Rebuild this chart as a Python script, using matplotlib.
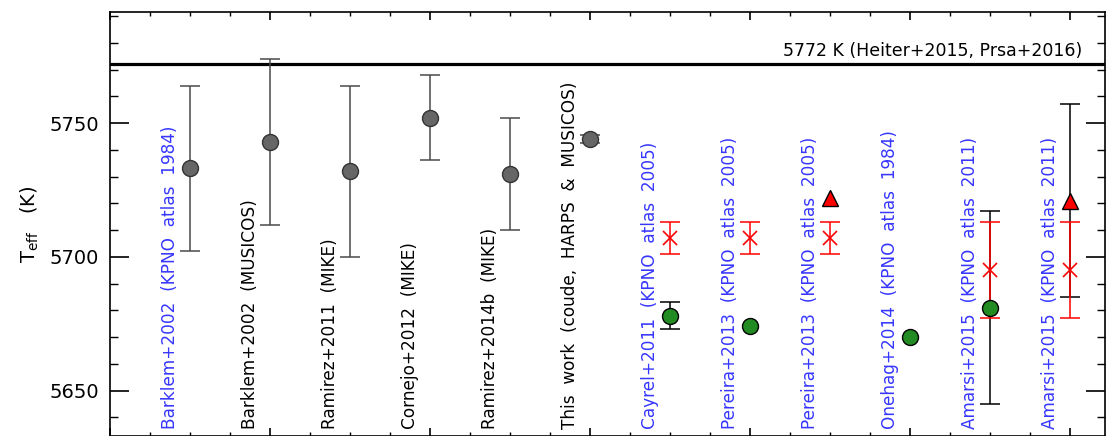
import matplotlib
matplotlib.use("Agg")
import matplotlib.pyplot as plt
import numpy as np
from matplotlib.ticker import MultipleLocator

# column labels, left to right
labels = [
    "Barklem+2002  (KPNO  atlas  1984)",
    "Barklem+2002  (MUSICOS)",
    "Ramirez+2011  (MIKE)",
    "Cornejo+2012  (MIKE)",
    "Ramirez+2014b  (MIKE)",
    "This  work  (coude,  HARPS  &  MUSICOS)",
    "Cayrel+2011  (KPNO  atlas  2005)",
    "Pereira+2013  (KPNO  atlas  2005)",
    "Pereira+2013  (KPNO  atlas  2005)",
    "Onehag+2014  (KPNO  atlas  1984)",
    "Amarsi+2015  (KPNO  atlas  2011)",
    "Amarsi+2015  (KPNO  atlas  2011)",
]
label_blue = [True, False, False, False, False, False, True, True, True, True, True, True]

# grey circles
gray_pos = [1, 2, 3, 4, 5, 6]
gray_val = [5733, 5743, 5732, 5752, 5731, 5744]
gray_err = [31, 31, 32, 16, 21, 1.5]

# green circles
green_pos = [7, 8, 10, 11]
green_val = [5678, 5674, 5670, 5681]
green_err = [5, 0, 0, 36]

# red crosses
cross_pos = [7, 8, 9, 11, 12]
cross_val = [5707, 5707, 5707, 5695, 5695]
cross_err = [6, 6, 6, 18, 18]

# red triangles
tri_pos = [9, 12]
tri_val = [5722, 5721]
tri_err = [0, 36]

sun_teff = 5772
sun_label = "5772 K (Heiter+2015, Prsa+2016)"

BLUE = "#3636ff"
GRAY = "#666666"
GREEN = "#228b22"
RED = "#ff0000"

fig = plt.figure(figsize=(11.06, 4.36), dpi=100)
ax = fig.add_axes([110 / 1106, 0.0, 995 / 1106, 424 / 436])


def draw_err(pos, val, err, color, cap=7, z=2):
    pos, val, err = map(np.asarray, (pos, val, err))
    m = err > 0
    if m.any():
        ax.errorbar(pos[m], val[m], yerr=err[m], fmt="none", ecolor=color,
                    elinewidth=1.1, capsize=cap, capthick=1.1, zorder=z)


draw_err(gray_pos, gray_val, gray_err, "#4a4a4a")
ax.plot(gray_pos, gray_val, "o", ms=11.5, mfc=GRAY, mec="#333333", mew=1, zorder=5)

draw_err(green_pos, green_val, green_err, "black")
draw_err(tri_pos, tri_val, tri_err, "black")
draw_err(cross_pos, cross_val, cross_err, RED, z=3)
ax.plot(cross_pos, cross_val, "x", ms=10, mec=RED, mew=1.2, zorder=4)
ax.plot(green_pos, green_val, "o", ms=11.5, mfc=GREEN, mec="black", mew=1, zorder=5)
ax.plot(tri_pos, tri_val, "^", ms=12, mfc=RED, mec="black", mew=1, zorder=5)

ax.axhline(sun_teff, color="black", lw=2.3, zorder=1)
ax.text(12.15, sun_teff + 1.6, sun_label, ha="right", va="bottom", fontsize=12.5)

for i, (lab, blue) in enumerate(zip(labels, label_blue)):
    ax.text(i + 1 - 0.25, 5635.8, lab, rotation=90, ha="center", va="bottom",
            fontsize=12.2, color=BLUE if blue else "black")

ax.set_xlim(0, 12.44)
ax.set_ylim(5633, 5791.5)
ax.xaxis.set_major_locator(MultipleLocator(2))
ax.xaxis.set_minor_locator(MultipleLocator(0.5))
ax.yaxis.set_major_locator(MultipleLocator(50))
ax.yaxis.set_minor_locator(MultipleLocator(10))
ax.set_xticklabels([])
ax.tick_params(axis="y", which="major", direction="in", length=14, width=1.2,
               left=True, right=True, labelsize=14, pad=8)
ax.tick_params(axis="y", which="minor", direction="in", length=6, width=1,
               left=True, right=True)
ax.tick_params(axis="x", which="major", direction="in", length=6, width=1.2,
               top=True, bottom=True)
ax.tick_params(axis="x", which="minor", direction="in", length=3, width=1,
               top=True, bottom=True)
for s in ax.spines.values():
    s.set_linewidth(1.2)

ax.set_ylabel(r"T$_{\rm eff}$   (K)", fontsize=14, labelpad=6)

fig.savefig("out.png", dpi=100)
